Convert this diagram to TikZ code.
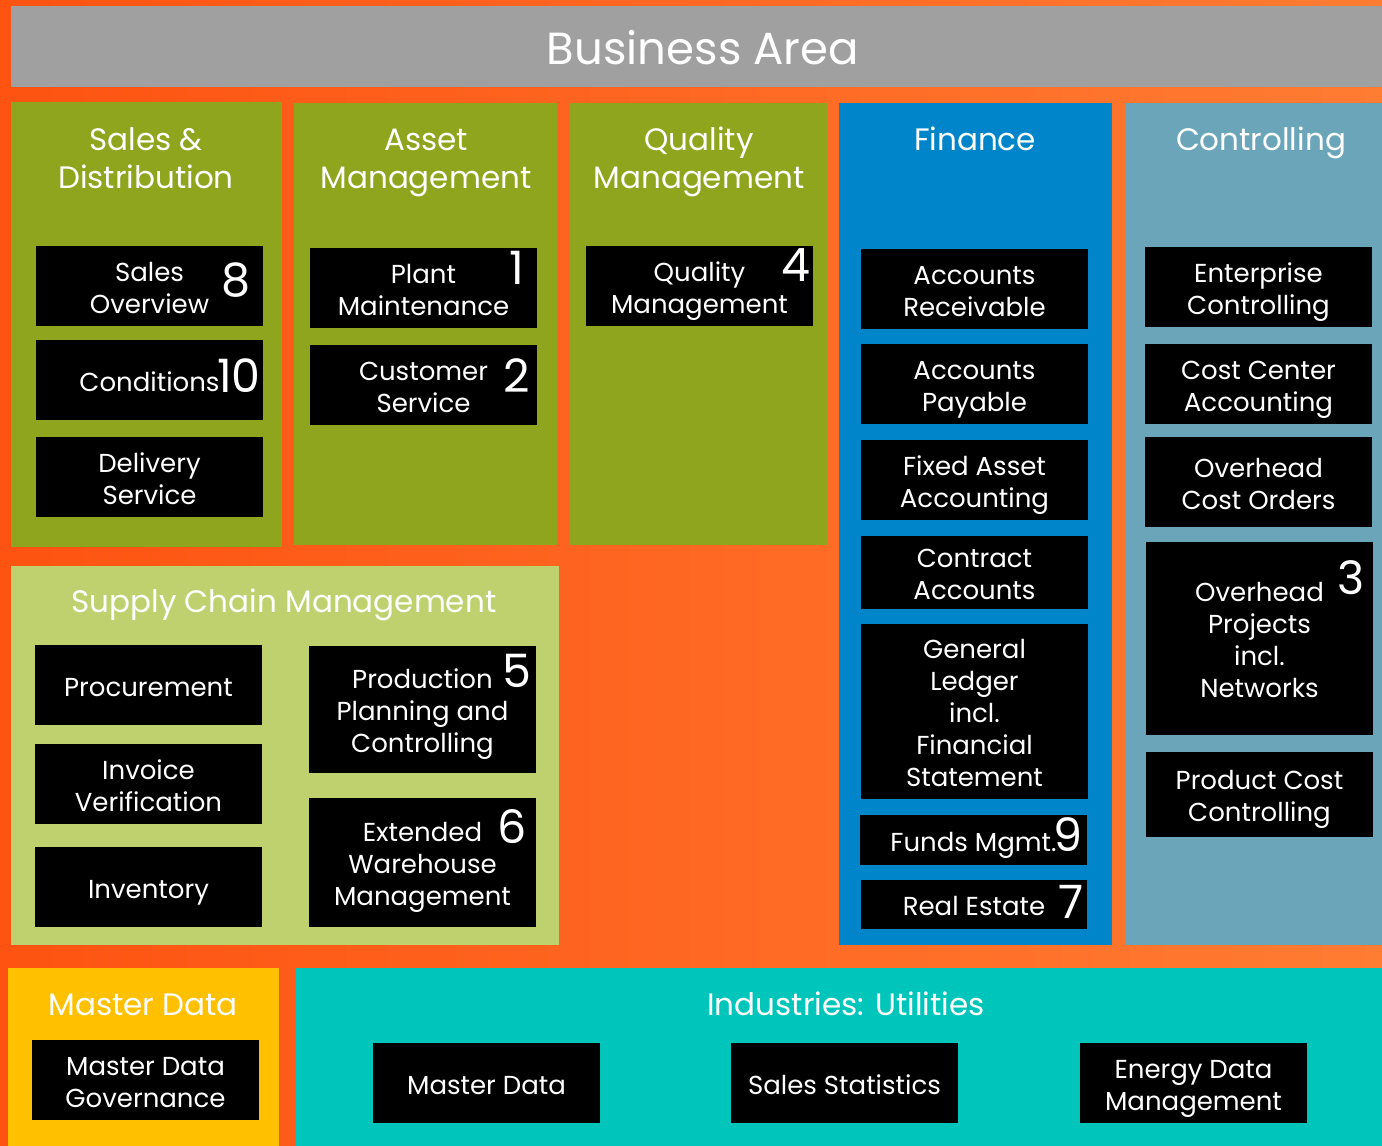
\documentclass[tikz,border=0pt]{standalone}
\usepackage{fontspec}
\setmainfont{Poppins}
\definecolor{orL}{HTML}{FE5311}
\definecolor{orR}{HTML}{FF7C33}
\definecolor{hdr}{HTML}{A0A0A0}
\definecolor{olive}{HTML}{8EA51D}
\definecolor{lgreen}{HTML}{BFD16F}
\definecolor{fblue}{HTML}{0085CA}
\definecolor{cblue}{HTML}{6AA5BA}
\definecolor{myell}{HTML}{FFC000}
\definecolor{teal}{HTML}{00C5BA}
% name, cx, cy, w, h, number of lines, text
\newcommand\mybox[7]{%
  \node[boxbg, minimum width=#4, minimum height=#5] (#1) at (#2,#3) {};
  \node[boxtxt] (#1t) at (#2,{#3+16*(#6-1)+11}) {#7};}
\begin{document}
\begin{tikzpicture}[x=1pt,y=-1pt,
  boxbg/.style={fill=black, inner sep=0},
  boxtxt/.style={text=white, align=center, inner sep=0, anchor=base, font=\fontsize{26}{32}\selectfont},
  ttl/.style={text=white, align=center, inner sep=0, anchor=base, font=\fontsize{31}{38}\selectfont},
  num/.style={text=white, inner sep=0, font=\fontsize{46}{46}\selectfont}]
\useasboundingbox (0,0) rectangle (1382,1146);
\shade[left color=orL, right color=orR] (0,0) rectangle (1382,1146);
% panels
\fill[hdr] (11,6) rectangle (1382,87);
\fill[olive] (11,102) rectangle (282,547);
\fill[olive] (294,103) rectangle (557,545);
\fill[olive] (569,103) rectangle (828,545);
\fill[fblue] (839,103) rectangle (1112,945);
\fill[cblue] (1126,103) rectangle (1382,945);
\fill[lgreen] (11,566) rectangle (559,945);
\fill[myell] (8,968) rectangle (279,1146);
\fill[teal] (296,968) rectangle (1382,1146);
% titles
\node[text=white, inner sep=0, font=\fontsize{45}{50}\selectfont] (tBA) at (703,48) {Business Area};
\node[ttl] (tSD) at (146,188) {Sales \&\\Distribution};
\node[ttl] (tAM) at (426,188) {Asset\\Management};
\node[ttl] (tQM) at (699,188) {Quality\\Management};
\node[ttl] (tFI) at (975,150) {Finance};
\node[ttl] (tCO) at (1261,150) {Controlling};
\node[ttl] (tSCM) at (284,612) {Supply Chain Management};
\node[ttl] (tMD) at (143,1015) {Master Data};
\node[ttl] (tIU) at (846,1015) {Industries: Utilities};
% Sales & Distribution
\mybox{SO}{149.5}{286}{227}{80}{2}{Sales\\Overview}
\mybox{CD}{149.5}{380}{227}{80}{1}{Conditions}
\mybox{DS}{149.5}{477}{227}{80}{2}{Delivery\\Service}
% Asset Management
\mybox{PM}{423.5}{288}{227}{80}{2}{Plant\\Maintenance}
\mybox{CS}{423.5}{385}{227}{80}{2}{Customer\\Service}
% Quality
\mybox{QM}{699.5}{286}{227}{80}{2}{Quality\\Management}
% Finance
\mybox{AR}{974.5}{289}{227}{80}{2}{Accounts\\Receivable}
\mybox{AP}{974.5}{384}{227}{80}{2}{Accounts\\Payable}
\mybox{FA}{974.5}{480}{227}{80}{2}{Fixed Asset\\Accounting}
\mybox{CA}{974.5}{572.5}{227}{73}{2}{Contract\\Accounts}
\mybox{GL}{974.5}{711.5}{227}{175}{5}{General\\Ledger\\incl.\\Financial\\Statement}
\mybox{FM}{973.5}{840}{227}{50}{1}{Funds Mgmt.}
\mybox{RE}{974}{904.5}{226}{49}{1}{Real Estate}
% Controlling
\mybox{EC}{1258.5}{287}{227}{80}{2}{Enterprise\\Controlling}
\mybox{CC}{1258.5}{384}{227}{80}{2}{Cost Center\\Accounting}
\mybox{OC}{1258.5}{482}{227}{90}{2}{Overhead\\Cost Orders}
\mybox{OP}{1259.5}{638.5}{227}{193}{4}{Overhead\\Projects\\incl.\\Networks}
\mybox{PC}{1259.5}{794.5}{227}{85}{2}{Product Cost\\Controlling}
% Supply Chain
\mybox{PR}{148.5}{685}{227}{80}{1}{Procurement}
\mybox{IV}{148.5}{784}{227}{80}{2}{Invoice\\Verification}
\mybox{IN}{148.5}{887}{227}{80}{1}{Inventory}
\mybox{PP}{422.5}{709.5}{227}{127}{3}{Production\\Planning and\\Controlling}
\mybox{EW}{422.5}{862.5}{227}{129}{3}{Extended\\Warehouse\\Management}
% Master Data
\mybox{MG}{145.5}{1080}{227}{80}{2}{Master Data\\Governance}
% Industries
\mybox{IM}{486.5}{1083}{227}{80}{1}{Master Data}
\mybox{SS}{844.5}{1083}{227}{80}{1}{Sales Statistics}
\mybox{ED}{1193.5}{1083}{227}{80}{2}{Energy Data\\Management}
% numbers
\node[num] (n8) at (236,280) {8};
\node[num] (n10) at (239,376) {10};
\node[num] (n1) at (517,268) {1};
\node[num] (n2) at (517,376) {2};
\node[num] (n4) at (796,265) {4};
\node[num] (n9) at (1068,835) {9};
\node[num] (n7) at (1071,902) {7};
\node[num] (n3) at (1351,578) {3};
\node[num] (n5) at (517,671) {5};
\node[num] (n6) at (512,827) {6};
\end{tikzpicture}
\end{document}
